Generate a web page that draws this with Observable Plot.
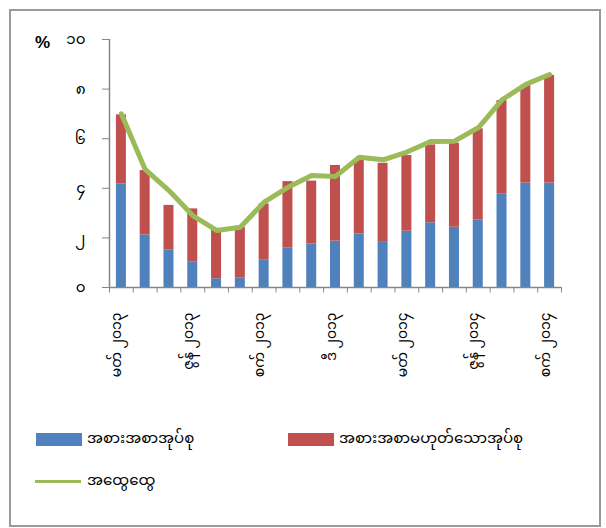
<!DOCTYPE html>
<html><head><meta charset="utf-8">
<script src="https://cdn.jsdelivr.net/npm/d3@7"></script>
<script src="https://cdn.jsdelivr.net/npm/@observablehq/plot@0.6"></script>
<style>
body{margin:0;background:#fff;}
#wrap{position:relative;width:606px;height:528px;overflow:hidden;font-family:"Noto Sans Myanmar","Padauk","Myanmar Text","Noto Sans",sans-serif;}
#border{position:absolute;left:9px;top:9px;width:592px;height:518px;border:2px solid #9a9a9a;box-sizing:border-box;}
#chart{position:absolute;left:0;top:0;}
.pct{position:absolute;left:35px;top:33px;font:bold 17px Arial,"Liberation Sans",sans-serif;color:#000;}
.sw{position:absolute;width:46px;height:13px;}
.lt{position:absolute;font-size:15px;color:#000;white-space:nowrap;line-height:20px;}
</style></head>
<body><div id="wrap"><div id="border"></div><div id="chart"></div><div class="pct">%</div>
<div class="sw" style="left:36px;top:433px;background:#4F81BD"></div><div class="lt" id="l1" style="left:87px;top:430px"></div>
<div class="sw" style="left:288px;top:433px;background:#C0504D"></div><div class="lt" id="l2" style="left:339px;top:430px"></div>
<div class="sw" style="left:35px;top:480px;height:3px;background:#9BBB59"></div><div class="lt" id="l3" style="left:87px;top:472px"></div>
</div>
<script>
const months = ["မတ် ၂၀၁၃","ဧပြီ ၂၀၁၃","မေ ၂၀၁၃","ဇွန် ၂၀၁၃","ဇူ ၂၀၁၃","ဩ ၂၀၁၃","စက် ၂၀၁၃","အောက် ၂၀၁၃","နို ၂၀၁၃","ဒီ ၂၀၁၃","ဇန် ၂၀၁၄","ဖေ ၂၀၁၄","မတ် ၂၀၁၄","ဧပြီ ၂၀၁၄","မေ ၂၀၁၄","ဇွန် ၂၀၁၄","ဇူ ၂၀၁၄","ဩ ၂၀၁၄","စက် ၂၀၁၄"];
const tickLabels = ["မတ် ၂၀၁၃","ဇွန် ၂၀၁၃","စက် ၂၀၁၃","ဒီ ၂၀၁၃","မတ် ၂၀၁၄","ဇွန် ၂၀၁၄","စက် ၂၀၁၄"];
const food    = [4.18,2.12,1.52,1.04,0.35,0.39,1.12,1.60,1.76,1.87,2.16,1.85,2.27,2.61,2.43,2.73,3.78,4.21,4.21];
const nonFood = [2.78,2.60,1.79,2.13,1.95,2.04,2.25,2.67,2.53,3.05,2.96,3.16,3.05,3.14,3.39,3.67,3.76,3.94,4.34];
const general = [7.00,4.76,3.91,2.90,2.30,2.43,3.44,4.04,4.52,4.48,5.25,5.15,5.46,5.89,5.90,6.44,7.57,8.19,8.59];
const yTicks = [0,2,4,6,8,10];
const yTickLabels = ["၀","၂","၄","၆","၈","၁၀"];
const seriesNames = ["အစားအစာအုပ်စု","အစားအစာမဟုတ်သောအုပ်စု","အထွေထွေ"];

document.getElementById("l1").textContent = seriesNames[0];
document.getElementById("l2").textContent = seriesNames[1];
document.getElementById("l3").textContent = seriesNames[2];

const rows = months.flatMap((m,i)=>[{month:m, group:seriesNames[0], value:food[i]},{month:m, group:seriesNames[1], value:nonFood[i]}]);
const lineRows = months.map((m,i)=>({month:m, v:general[i]}));
const W=606, H=400, ML=109, MR=45, MT=39, MB=113;
const step = (W-ML-MR)/months.length;
const axisColor = "#868686";

const chart = Plot.plot({
  width:W, height:H, marginLeft:ML, marginRight:MR, marginTop:MT, marginBottom:MB,
  style:{fontFamily:'"Noto Sans Myanmar","Padauk","Myanmar Text","Noto Sans",sans-serif', fontSize:"14px", background:"transparent"},
  x:{type:"band", domain:months, padding:0, round:false, axis:null},
  y:{domain:[0,10], axis:null},
  color:{domain:seriesNames.slice(0,2), range:["#4F81BD","#C0504D"]},
  marks:[
    Plot.barY(rows, Plot.stackY({x:"month", y:"value", fill:"group", insetLeft:(step-10)/2, insetRight:(step-10)/2})),
    Plot.ruleY([0], {stroke:axisColor, strokeWidth:1.5}),
    Plot.ruleX([months[0]], {x:d=>d, dx:-step/2, y1:0, y2:10, stroke:axisColor, strokeWidth:1.5}),
    Plot.ruleX(months, {x:d=>d, dx:-step/2, y1:0, y2:-0.22, stroke:axisColor}),
    Plot.ruleX([months[months.length-1]], {x:d=>d, dx:step/2, y1:0, y2:-0.22, stroke:axisColor}),
    Plot.axisY(yTicks, {anchor:"left", tickSize:7, tickPadding:17, tickFormat:(d,i)=>yTickLabels[i], color:"black", stroke:axisColor, fontSize:15, label:null}),
    Plot.lineY(lineRows, {x:"month", y:"v", stroke:"#9BBB59", strokeWidth:5, strokeLinejoin:"round", strokeLinecap:"round"}),
    Plot.text(tickLabels, {x:d=>d, frameAnchor:"bottom", dy:25, rotate:-90, textAnchor:"end", fontSize:14, fill:"black"})
  ]
});
document.getElementById("chart").appendChild(chart);
</script></body></html>
